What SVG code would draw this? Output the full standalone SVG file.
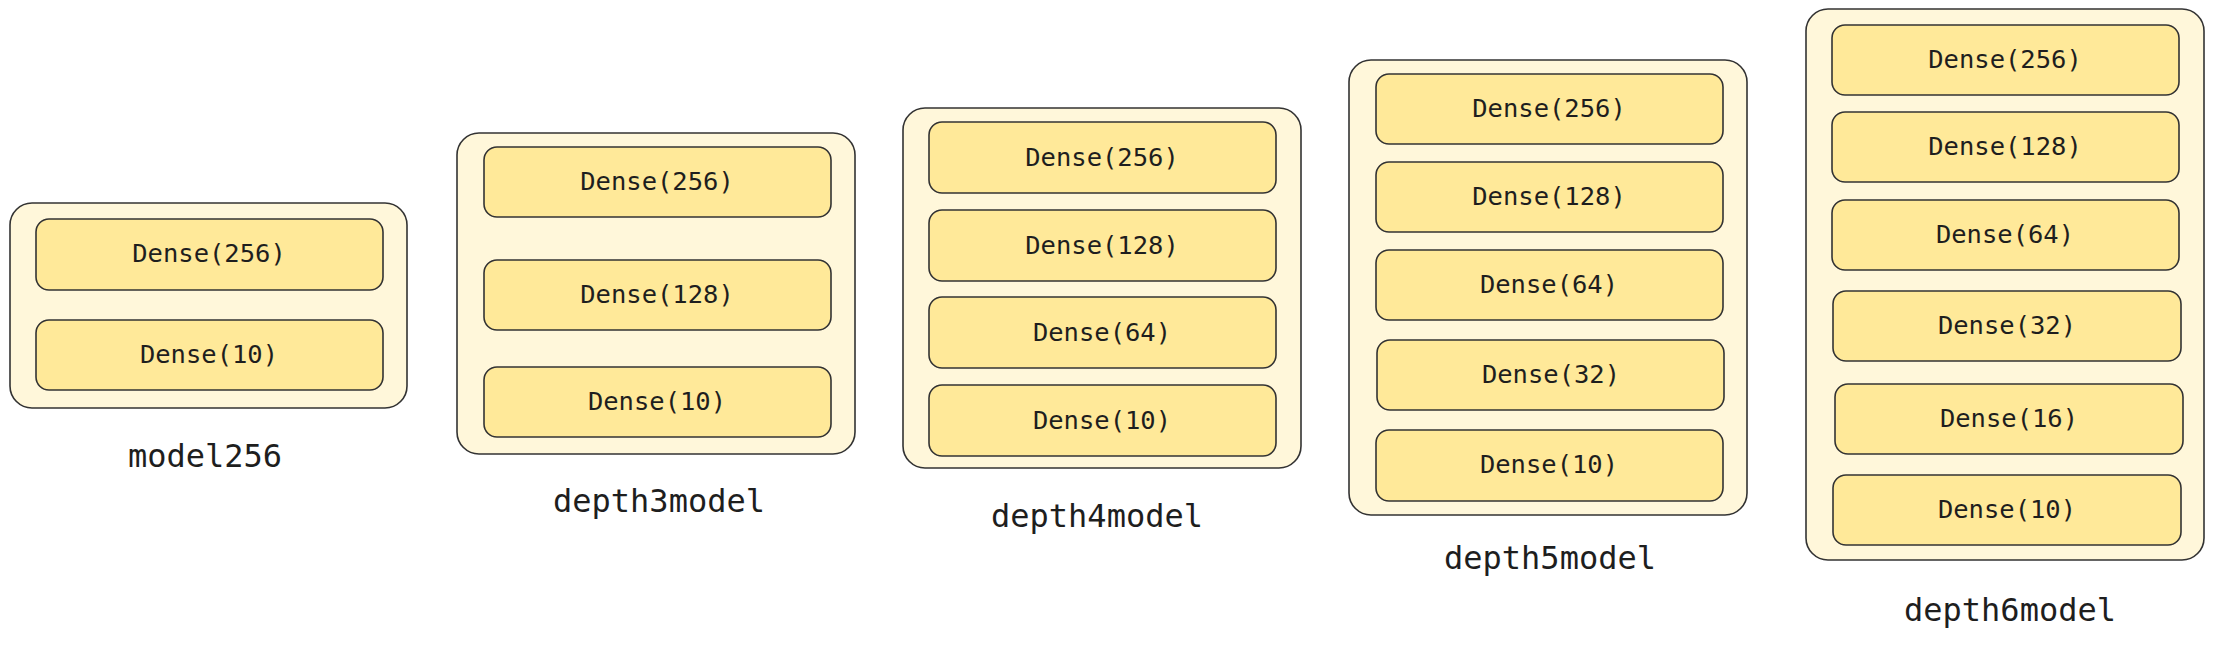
<svg xmlns="http://www.w3.org/2000/svg" width="2213" height="646" viewBox="0 0 2213 646">
<style>
.outer{fill:#fff7da;stroke:#333;stroke-width:1.6}
.layer{fill:#ffe999;stroke:#333;stroke-width:1.6}
.lt{font-family:"DejaVu Sans Mono","Liberation Mono",monospace;font-size:25.5px;fill:#1e1e1e;text-anchor:middle}
.cap{font-family:"DejaVu Sans Mono","Liberation Mono",monospace;font-size:32px;fill:#1e1e1e;text-anchor:middle}
</style>
<rect width="2213" height="646" fill="#ffffff"/>
<g id="connectors"></g>
<g id="model256">
<rect class="outer" x="10" y="203" width="397" height="205" rx="22"/>
<rect class="layer" x="36" y="219" width="347" height="71" rx="13"/>
<text class="lt" x="209" y="262">Dense(256)</text>
<rect class="layer" x="36" y="320" width="347" height="70" rx="13"/>
<text class="lt" x="209" y="363">Dense(10)</text>
<text class="cap" x="205" y="467">model256</text>
</g>
<g id="depth3model">
<rect class="outer" x="457" y="133" width="398" height="321" rx="22"/>
<rect class="layer" x="484" y="147" width="347" height="70" rx="13"/>
<text class="lt" x="657" y="190">Dense(256)</text>
<rect class="layer" x="484" y="260" width="347" height="70" rx="13"/>
<text class="lt" x="657" y="303">Dense(128)</text>
<rect class="layer" x="484" y="367" width="347" height="70" rx="13"/>
<text class="lt" x="657" y="410">Dense(10)</text>
<text class="cap" x="659" y="512">depth3model</text>
</g>
<g id="depth4model">
<rect class="outer" x="903" y="108" width="398" height="360" rx="22"/>
<rect class="layer" x="929" y="122" width="347" height="71" rx="13"/>
<text class="lt" x="1102" y="166">Dense(256)</text>
<rect class="layer" x="929" y="210" width="347" height="71" rx="13"/>
<text class="lt" x="1102" y="254">Dense(128)</text>
<rect class="layer" x="929" y="297" width="347" height="71" rx="13"/>
<text class="lt" x="1102" y="341">Dense(64)</text>
<rect class="layer" x="929" y="385" width="347" height="71" rx="13"/>
<text class="lt" x="1102" y="429">Dense(10)</text>
<text class="cap" x="1097" y="527">depth4model</text>
</g>
<g id="depth5model">
<rect class="outer" x="1349" y="60" width="398" height="455" rx="22"/>
<rect class="layer" x="1376" y="74" width="347" height="70" rx="13"/>
<text class="lt" x="1549" y="117">Dense(256)</text>
<rect class="layer" x="1376" y="162" width="347" height="70" rx="13"/>
<text class="lt" x="1549" y="205">Dense(128)</text>
<rect class="layer" x="1376" y="250" width="347" height="70" rx="13"/>
<text class="lt" x="1549" y="293">Dense(64)</text>
<rect class="layer" x="1377" y="340" width="347" height="70" rx="13"/>
<text class="lt" x="1551" y="383">Dense(32)</text>
<rect class="layer" x="1376" y="430" width="347" height="71" rx="13"/>
<text class="lt" x="1549" y="473">Dense(10)</text>
<text class="cap" x="1550" y="569">depth5model</text>
</g>
<g id="depth6model">
<rect class="outer" x="1806" y="9" width="398" height="551" rx="22"/>
<rect class="layer" x="1832" y="25" width="347" height="70" rx="13"/>
<text class="lt" x="2005" y="68">Dense(256)</text>
<rect class="layer" x="1832" y="112" width="347" height="70" rx="13"/>
<text class="lt" x="2005" y="155">Dense(128)</text>
<rect class="layer" x="1832" y="200" width="347" height="70" rx="13"/>
<text class="lt" x="2005" y="243">Dense(64)</text>
<rect class="layer" x="1833" y="291" width="348" height="70" rx="13"/>
<text class="lt" x="2007" y="334">Dense(32)</text>
<rect class="layer" x="1835" y="384" width="348" height="70" rx="13"/>
<text class="lt" x="2009" y="427">Dense(16)</text>
<rect class="layer" x="1833" y="475" width="348" height="70" rx="13"/>
<text class="lt" x="2007" y="518">Dense(10)</text>
<text class="cap" x="2010" y="621">depth6model</text>
</g>
</svg>
